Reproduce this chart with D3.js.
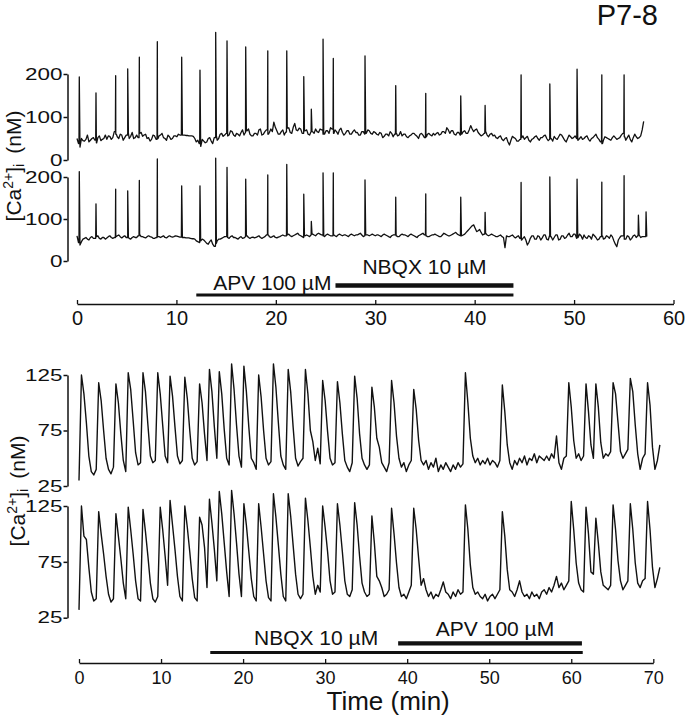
<!DOCTYPE html>
<html><head><meta charset="utf-8">
<script src="https://cdn.jsdelivr.net/npm/d3@7"></script>
<style>
html,body{margin:0;padding:0;background:#fff;}
svg{display:block;font-family:"Liberation Sans",Arial,Helvetica,sans-serif;}
</style></head><body>
<svg id="chart" width="686" height="720"></svg>
<script>
// ---------------- DATA ----------------
const panelTitle = "P7-8";
const yTitleText = ["[Ca", "2+", "]", "i", " (nM)"];
const xTitleText = "Time (min)";

// top panel (0-60 min): samples every 0.3 min, plus half-step samples
const topStep = 0.3;
const topTicksX = [0, 10, 20, 30, 40, 50, 60];
const topTicksY = [0, 100, 200];
const trace1Base = [
 50,30,45,48,42,50,46,52,45,50,
 48,55,52,60,50,58,52,62,55,50,
 58,62,55,60,52,48,56,50,58,52,
 46,54,50,56,60,58,58,57,56,55,
 42,38,48,40,50,44,52,46,60,55,
 62,58,66,55,60,64,58,68,60,56,
 62,70,58,66,60,72,88,68,60,70,
 65,75,62,85,68,72,62,70,58,66,
 72,64,70,60,68,75,62,66,70,64,
 62,68,60,70,64,58,66,62,68,60,
 64,58,62,55,60,66,54,62,58,56,
 60,52,58,62,55,60,58,54,62,56,
 58,64,60,66,75,62,68,58,64,60,
 68,62,80,66,72,60,58,66,54,62,
 58,50,56,45,52,35,55,50,44,52,
 48,55,42,50,56,46,52,58,45,50,
 55,48,60,52,42,58,50,56,46,54,
 50,56,44,52,60,48,38,54,50,46,
 56,48,52,62,46,58,42,60,50,56,
 90];
const trace1Mid = [
 38,50,44,58,46,52,40,56,48,58,
 56,48,66,54,60,46,58,50,64,52,
 52,64,58,50,44,58,48,56,62,50,
 58,48,56,54,58,58,57,56,56,50,
 46,32,44,42,52,38,56,50,62,58,
 56,68,58,62,56,70,64,72,56,62,
 58,72,60,70,64,66,76,60,66,58,
 74,64,76,70,74,62,68,60,66,62,
 66,72,60,68,62,72,70,60,74,58,
 68,60,66,64,58,66,60,70,62,66,
 60,64,52,60,56,62,60,56,66,60,
 54,56,62,58,50,62,52,60,58,62,
 62,58,66,62,70,68,60,64,58,66,
 62,70,72,70,64,56,62,58,60,56,
 52,54,48,50,42,46,52,44,48,56,
 52,46,48,54,50,52,56,50,48,44,
 50,54,58,46,50,54,52,50,50,48,
 54,48,50,56,52,42,46,52,48,52,
 52,50,58,54,52,48,52,54,52,70];
const trace1Spikes = [[0.23,193],[1.91,156],[3.89,196],[5.1,212],[6.27,239],[8.08,275],[10.53,239],[12.37,209],[13.95,297],[15.09,277],[16.97,263],[19.19,254],[21.1,254],[22.81,194],[23.57,118],[24.75,281],[25.78,236],[28.97,242],[32.06,173],[35.08,155],[38.6,149],[41.05,127],[44.67,198],[47.56,177],[50.3,211],[52.79,198],[55.03,198]];
const trace2Base = [
 60,38,52,56,50,58,54,60,52,56,
 55,60,54,58,62,55,60,56,52,58,
 56,62,58,55,60,57,54,58,56,60,
 55,60,57,60,58,57,56,55,54,53,
 48,44,52,46,40,50,35,48,52,56,
 58,54,60,56,52,58,55,60,54,57,
 56,60,54,58,62,56,60,55,58,62,
 60,64,58,62,66,60,56,62,58,64,
 60,66,62,58,64,60,62,58,64,60,
 62,58,64,60,62,66,58,62,60,64,
 60,62,58,64,60,56,62,60,58,64,
 62,58,64,60,56,62,66,60,58,62,
 64,60,58,66,62,60,64,68,62,60,
 64,72,80,86,70,75,62,66,60,64,
 60,58,62,56,60,58,62,55,60,50,
 58,38,54,60,52,58,55,62,50,58,
 56,62,52,60,56,66,58,64,56,60,
 62,54,58,64,56,52,60,54,58,62,
 48,34,56,60,52,58,54,62,60,56,
 58];
const trace2Mid = [
 44,46,54,52,56,54,58,54,56,52,
 58,56,56,60,58,58,56,54,56,56,
 60,58,56,58,58,54,56,58,58,56,
 58,58,58,59,57,56,55,55,53,52,
 46,48,50,42,46,40,42,52,54,58,
 56,58,56,54,56,54,58,56,56,55,
 58,56,56,62,58,58,56,57,60,60,
 62,60,60,64,62,58,60,60,62,62,
 64,64,60,62,62,60,60,62,62,62,
 60,62,62,62,64,62,60,62,62,62,
 62,60,62,62,58,60,62,58,62,62,
 60,62,62,58,60,64,62,58,60,62,
 62,58,62,64,60,62,66,64,60,62,
 68,76,84,78,72,68,64,62,62,62,
 58,60,58,32,58,60,58,58,54,54,
 50,44,60,52,60,50,62,52,60,50,
 62,50,60,54,62,58,64,54,64,52,
 56,60,52,60,50,58,52,60,54,58,
 40,50,60,52,60,50,60,56,62,58];
const trace2Spikes = [[0.23,213],[1.91,136],[3.89,171],[5.1,167],[6.27,192],[8.08,243],[10.53,179],[12.37,179],[13.95,245],[15.09,223],[16.97,195],[19.19,205],[21.1,230],[22.81,159],[23.57,94],[24.75,210],[25.78,210],[28.97,193],[32.06,152],[35.08,160],[38.6,152],[41.05,116],[44.67,187],[47.56,200],[50.3,195],[52.79,188],[55.03,203],[56.47,109],[57.24,117]];
const topDrugNames = ["APV 100 µM", "NBQX 10 µM"];
const topDrugStart = [12, 26];
const topDrugEnd = [43.9, 43.9];

// bottom panel (0-70 min)
const bottomStep = 0.3;
const bottomTicksX = [0, 10, 20, 30, 40, 50, 60, 70];
const bottomTicksY = [25, 75, 125];
const trace3 = [
 30,125,108,82,52,38,35,40,118,102,
 75,50,40,36,42,117,100,72,48,38,
 127,112,84,55,44,46,127,110,80,52,
 46,48,127,108,80,52,46,124,106,78,
 52,45,48,123,104,75,50,44,47,117,
 100,72,48,130,110,78,50,128,108,76,
 50,44,135,112,80,52,42,133,110,78,
 50,46,40,125,105,75,50,44,47,135,
 114,82,52,44,40,130,110,78,50,43,
 47,50,130,108,75,65,48,59,45,120,
 102,74,50,44,46,119,100,72,48,42,
 38,46,124,104,72,50,44,40,44,114,
 96,68,60,46,42,38,46,120,100,70,
 50,42,46,38,44,48,112,94,66,48,
 44,48,40,46,42,50,38,44,40,46,
 42,38,44,40,46,42,45,127,100,68,
 52,46,50,44,48,45,50,44,48,46,
 42,48,116,92,62,46,40,48,44,50,
 46,52,44,50,48,54,46,52,50,48,
 52,48,54,50,70,46,40,50,52,118,
 96,66,50,54,48,52,117,92,62,50,
 117,96,64,50,54,52,56,118,108,82,
 56,50,54,58,122,110,80,54,40,50,
 54,118,98,60,40,48,62];
const trace4 = [
 32,125,98,95,70,48,40,42,120,100,
 82,62,46,39,42,118,98,78,56,42,
 124,104,82,58,42,40,122,102,80,56,
 42,39,44,124,104,80,54,130,108,86,
 62,44,40,125,106,84,60,43,40,115,
 108,88,52,131,110,86,58,138,118,92,
 66,44,139,118,92,64,44,127,108,84,
 60,44,40,127,106,82,58,43,40,136,
 115,90,64,44,40,136,116,90,64,46,
 42,46,132,112,88,62,46,54,48,125,
 106,84,58,46,48,127,108,84,58,46,
 44,50,128,108,80,56,48,44,46,116,
 92,62,58,52,44,46,50,123,100,74,
 52,44,46,42,48,54,123,104,78,54,
 60,50,44,48,42,46,44,50,57,48,
 46,42,48,44,50,46,48,126,104,72,
 52,46,48,44,42,46,40,44,46,42,
 46,50,120,98,68,50,48,44,50,58,
 48,44,46,42,48,44,46,42,48,50,
 46,52,48,54,62,52,56,50,54,58,
 129,104,74,56,50,48,124,100,66,64,
 114,92,66,54,52,50,54,126,104,76,
 58,50,54,58,127,104,74,56,52,58,
 60,129,104,70,52,60,70];
const bottomDrugNames = ["NBQX 10 µM", "APV 100 µM"];
const bottomDrugStart = [16, 38.9];
const bottomDrugEnd = [61.4, 61.3];

// ---------------- DRAWING ----------------
const svg = d3.select("#chart");
const FONT = '"Liberation Sans", Arial, Helvetica, sans-serif';

const xTop = d3.scaleLinear().domain([0, 60]).range([77, 673.5]);
const xBot = d3.scaleLinear().domain([0, 70]).range([79, 653.3]);
const y1 = d3.scaleLinear().domain([0, 200]).range([160, 74]);
const y2 = d3.scaleLinear().domain([0, 200]).range([261, 177]);
const y3 = d3.scaleLinear().domain([25, 125]).range([486, 375]);
const y4 = d3.scaleLinear().domain([25, 125]).range([617.7, 506]);

function withSpikes(base, mid, spikes, dt) {
  const grid = [];
  base.forEach((v, i) => {
    grid.push([i * dt, v]);
    if (i < mid.length) grid.push([(i + 0.5) * dt, mid[i]]);
  });
  const pts = grid.slice();
  const bis = d3.bisector(d => d[0]).left;
  spikes.forEach(([t, p]) => {
    const j = bis(grid, t);
    const prev = grid[Math.max(j - 1, 0)], next = grid[Math.min(j, grid.length - 1)];
    pts.push([t - 0.03, prev[1]], [t, p], [t + 0.07, next[1]]);
  });
  return pts.sort((a, b) => a[0] - b[0]);
}
function sampled(vals, dt) { return vals.map((v, i) => [i * dt, v]); }

function drawTrace(pts, x, y, w) {
  const line = d3.line().x(d => x(d[0])).y(d => y(d[1]));
  svg.append("path").datum(pts).attr("d", line)
    .attr("fill", "none").attr("stroke", "#111").attr("stroke-width", w)
    .attr("stroke-linejoin", "round");
}

function drawYAxis(y, ticks) {
  const g = svg.append("g").attr("transform", "translate(67.5,0)")
    .call(d3.axisLeft(y).tickValues(ticks).tickSizeInner(4).tickSizeOuter(0).tickPadding(1).tickFormat(d3.format("d")));
  g.select(".domain").attr("stroke", "#111").attr("stroke-width", 1.5);
  g.selectAll(".tick line").attr("stroke", "#111").attr("stroke-width", 1.5);
  g.selectAll(".tick text").attr("font-family", FONT).attr("font-size", 16.5).attr("fill", "#111")
    .attr("transform", "translate(-5,0) scale(1.36,1) translate(5,0)");
}

function drawXAxis(x, ticks, yPos, fs, pad) {
  const g = svg.append("g").attr("transform", `translate(0,${yPos})`)
    .call(d3.axisBottom(x).tickValues(ticks).tickSizeInner(-4).tickSizeOuter(0).tickPadding(pad));
  g.select(".domain").attr("stroke", "#111").attr("stroke-width", 1.5);
  g.selectAll(".tick line").attr("stroke", "#111").attr("stroke-width", 1.3);
  g.selectAll(".tick text").attr("font-family", FONT).attr("font-size", fs).attr("fill", "#111");
}

function drawYTitle(cx, cy) {
  const t = svg.append("text").attr("transform", `translate(${cx},${cy}) rotate(-90)`)
    .attr("text-anchor", "middle").attr("font-family", FONT).attr("font-size", 21).attr("fill", "#111");
  t.append("tspan").text(yTitleText[0]);
  t.append("tspan").attr("font-size", 14).attr("dy", -8).text(yTitleText[1]);
  t.append("tspan").attr("dy", 8).text(yTitleText[2]);
  t.append("tspan").attr("font-size", 15).attr("dy", 3).text(yTitleText[3]);
  t.append("tspan").attr("dy", -3).attr("dx", 4).text(yTitleText[4]);
}

function drugBar(x, start, end, yPos, w) {
  svg.append("line").attr("x1", x(start)).attr("x2", x(end)).attr("y1", yPos).attr("y2", yPos)
    .attr("stroke", "#111").attr("stroke-width", w);
}
function label(txt, xPos, yPos, fs, anchor) {
  svg.append("text").attr("x", xPos).attr("y", yPos).attr("text-anchor", anchor)
    .attr("font-family", FONT).attr("font-size", fs).attr("fill", "#111").text(txt);
}

// traces
drawTrace(withSpikes(trace1Base, trace1Mid, trace1Spikes, topStep), xTop, y1, 1.3);
drawTrace(withSpikes(trace2Base, trace2Mid, trace2Spikes, topStep), xTop, y2, 1.3);
drawTrace(sampled(trace3, bottomStep), xBot, y3, 1.4);
drawTrace(sampled(trace4, bottomStep), xBot, y4, 1.4);

// axes
drawYAxis(y1, topTicksY);
drawYAxis(y2, topTicksY);
drawYAxis(y3, bottomTicksY);
drawYAxis(y4, bottomTicksY);
drawXAxis(xTop, topTicksX, 304, 20, 7);
drawXAxis(xBot, bottomTicksX, 663, 18, 8);

// drug application bars
drugBar(xTop, topDrugStart[0], topDrugEnd[0], 295, 3);
drugBar(xTop, topDrugStart[1], topDrugEnd[1], 285.5, 4.5);
label(topDrugNames[0], xTop(topDrugStart[1]) - 4, 290, 21, "end");
label(topDrugNames[1], (xTop(topDrugStart[1]) + xTop(topDrugEnd[1])) / 2, 274, 21, "middle");

drugBar(xBot, bottomDrugStart[0], bottomDrugEnd[0], 652.5, 3);
drugBar(xBot, bottomDrugStart[1], bottomDrugEnd[1], 643.3, 4.3);
label(bottomDrugNames[0], xBot(bottomDrugStart[1]) - 20, 645, 21, "end");
label(bottomDrugNames[1], (xBot(bottomDrugStart[1]) + xBot(bottomDrugEnd[1])) / 2 + 5, 636, 21, "middle");

// titles
drawYTitle(21, 166);
drawYTitle(25, 491);
label(xTitleText, (xBot(0) + xBot(70)) / 2 + 22, 710, 26, "middle");
label(panelTitle, 658, 25, 29, "end");
</script>
</body></html>
